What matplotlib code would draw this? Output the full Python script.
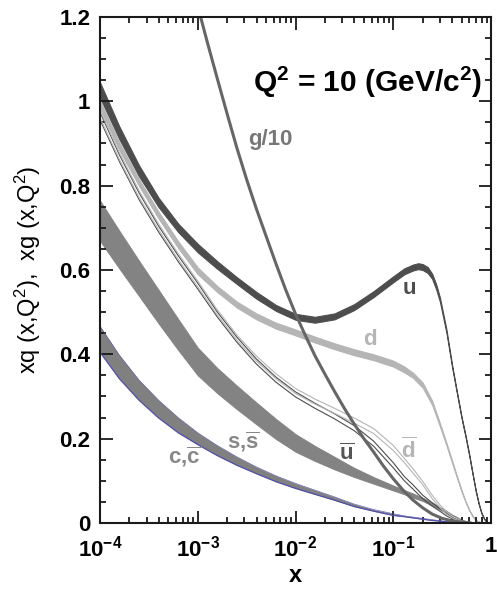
import numpy as np
import matplotlib.pyplot as plt
from matplotlib.ticker import FixedLocator, LogLocator, NullFormatter

plt.rcParams['font.family'] = ['Liberation Sans', 'DejaVu Sans']
plt.rcParams['mathtext.fontset'] = 'custom'
plt.rcParams['mathtext.rm'] = 'Liberation Sans'
plt.rcParams['mathtext.bf'] = 'Liberation Sans:bold'
plt.rcParams['mathtext.it'] = 'Liberation Sans:italic'

# common x grid for the sea quark bands
X = [1e-4, 1.58e-4, 2.51e-4, 3.98e-4, 6.31e-4, 1e-3, 1.58e-3, 2.51e-3, 3.98e-3, 6.31e-3,
     1e-2, 1.58e-2, 2.51e-2, 3.98e-2, 6.31e-2, 0.1, 0.13, 0.16, 0.2, 0.25, 0.3, 0.35,
     0.4, 0.45, 0.5, 0.55, 0.6, 0.65, 0.7, 0.75, 0.8, 0.85, 0.9]

# u band has a few more points round the valence peak
x_u = [1e-4, 1.58e-4, 2.51e-4, 3.98e-4, 6.31e-4, 1e-3, 1.58e-3, 2.51e-3, 3.98e-3, 6.31e-3,
       1e-2, 1.58e-2, 2.51e-2, 3.98e-2, 6.31e-2, 0.1, 0.13, 0.16, 0.18, 0.2, 0.225, 0.25,
       0.275, 0.3, 0.35, 0.4, 0.45, 0.5, 0.55, 0.6, 0.65, 0.7, 0.75, 0.8, 0.85, 0.9]
u_mid = [1.027, 0.925, 0.835, 0.76, 0.70, 0.652, 0.612, 0.575, 0.54, 0.51,
         0.489, 0.482, 0.49, 0.512, 0.543, 0.578, 0.597, 0.606, 0.609, 0.607, 0.6, 0.585,
         0.56, 0.53, 0.455, 0.372, 0.307, 0.25, 0.205, 0.16, 0.115, 0.075, 0.045, 0.023,
         0.010, 0.003]
u_err = [0.018, 0.015, 0.013, 0.011, 0.010, 0.010, 0.009, 0.008, 0.008, 0.007,
         0.007, 0.007, 0.007, 0.007, 0.007, 0.007, 0.007, 0.007, 0.007, 0.007, 0.007, 0.006,
         0.006, 0.005, 0.004, 0.003, 0.002, 0.002, 0.002, 0.002, 0.001, 0.001, 0.001, 0.001,
         0.001, 0.001]

d_mid = [0.992, 0.893, 0.807, 0.73, 0.66, 0.598, 0.555, 0.518, 0.49, 0.468,
         0.452, 0.435, 0.419, 0.405, 0.393, 0.378, 0.364, 0.35, 0.327, 0.285, 0.233, 0.187,
         0.145, 0.108, 0.076, 0.05, 0.03, 0.016, 0.007, 0.003, 0.001, 0.0, 0.0]
d_err = [0.009, 0.009, 0.008, 0.008, 0.008, 0.008, 0.007, 0.007, 0.007, 0.007,
         0.007, 0.007, 0.007, 0.007, 0.007, 0.007, 0.007, 0.006, 0.006, 0.005, 0.004, 0.003,
         0.003, 0.002, 0.002, 0.001, 0.001, 0.001, 0.0, 0.0, 0.0, 0.0, 0.0]

ub_mid = [0.965, 0.865, 0.775, 0.697, 0.627, 0.562, 0.495, 0.435, 0.383, 0.34,
          0.305, 0.278, 0.253, 0.225, 0.188, 0.137, 0.105, 0.085, 0.062, 0.044, 0.031, 0.02,
          0.012, 0.007, 0.004, 0.002, 0.001, 0.0, 0.0, 0.0, 0.0, 0.0, 0.0]
db_mid = [0.97, 0.87, 0.78, 0.702, 0.632, 0.567, 0.5, 0.44, 0.39, 0.348,
          0.313, 0.288, 0.266, 0.243, 0.218, 0.178, 0.148, 0.123, 0.095, 0.062, 0.04, 0.024,
          0.014, 0.008, 0.004, 0.002, 0.001, 0.0, 0.0, 0.0, 0.0, 0.0, 0.0]
sea_err = [0.009, 0.008, 0.008, 0.007, 0.007, 0.007, 0.006, 0.006, 0.006, 0.006,
           0.006, 0.006, 0.006, 0.006, 0.006, 0.006, 0.005, 0.005, 0.004, 0.004, 0.003, 0.003,
           0.002, 0.002, 0.001, 0.001, 0.001, 0.0, 0.0, 0.0, 0.0, 0.0, 0.0]

s_mid = [0.717, 0.648, 0.58, 0.513, 0.447, 0.383, 0.338, 0.298, 0.26, 0.223,
         0.19, 0.165, 0.142, 0.12, 0.101, 0.083, 0.073, 0.065, 0.056, 0.045, 0.035, 0.026,
         0.018, 0.012, 0.007, 0.004, 0.002, 0.001, 0.0, 0.0, 0.0, 0.0, 0.0]
s_err = [0.048, 0.045, 0.042, 0.04, 0.037, 0.033, 0.03, 0.028, 0.026, 0.024,
         0.021, 0.018, 0.015, 0.011, 0.008, 0.006, 0.005, 0.005, 0.004, 0.004, 0.003, 0.003,
         0.002, 0.002, 0.001, 0.001, 0.001, 0.0005, 0.0, 0.0, 0.0, 0.0, 0.0]

c_mid = [0.436, 0.37, 0.315, 0.27, 0.232, 0.2, 0.172, 0.147, 0.125, 0.105,
         0.088, 0.073, 0.058, 0.042, 0.03, 0.02, 0.016, 0.013, 0.01, 0.007, 0.005, 0.003,
         0.002, 0.001, 0.0, 0.0, 0.0, 0.0, 0.0, 0.0, 0.0, 0.0, 0.0]
c_err = [0.031, 0.028, 0.024, 0.021, 0.018, 0.014, 0.012, 0.01, 0.008, 0.007,
         0.006, 0.005, 0.004, 0.003, 0.002, 0.002, 0.001, 0.001, 0.001, 0.001, 0.0005, 0.0,
         0.0, 0.0, 0.0, 0.0, 0.0, 0.0, 0.0, 0.0, 0.0, 0.0, 0.0]

# gluon / 10
x_g = [1.07e-3, 1.26e-3, 1.58e-3, 2e-3, 2.51e-3, 3.16e-3, 3.98e-3, 5.01e-3, 6.31e-3, 7.94e-3,
       1e-2, 1.26e-2, 1.58e-2, 2e-2, 2.51e-2, 3.16e-2, 3.98e-2, 5.01e-2, 6.31e-2, 7.94e-2,
       0.1, 0.126, 0.158, 0.2, 0.251, 0.316, 0.398, 0.501, 0.631]
g10 = [1.2, 1.138, 1.055, 0.97, 0.89, 0.815, 0.745, 0.68, 0.615, 0.553,
       0.496, 0.445, 0.397, 0.353, 0.312, 0.272, 0.235, 0.2, 0.168, 0.135,
       0.105, 0.078, 0.055, 0.036, 0.021, 0.011, 0.005, 0.002, 0.0]

xticks = [1e-4, 1e-3, 1e-2, 1e-1, 1]
xticklabels = [r'$\mathbf{10^{-4}}$', r'$\mathbf{10^{-3}}$', r'$\mathbf{10^{-2}}$',
               r'$\mathbf{10^{-1}}$', r'$\mathbf{1}$']
yticks = [0, 0.2, 0.4, 0.6, 0.8, 1.0, 1.2]
yticklabels = ['0', '0.2', '0.4', '0.6', '0.8', '1', '1.2']


def band(mid, err):
    mid = np.array(mid)
    err = np.array(err)
    return mid - err, mid + err


fig = plt.figure(figsize=(4.97, 5.91), dpi=100)
ax = fig.add_axes([100 / 497, 1 - 523 / 591, 391 / 497, 506 / 591])

# charm band with blue edges
c_lo, c_hi = band(c_mid, c_err)
ax.fill_between(X, c_lo, c_hi, color='#808080', lw=0)
ax.plot(X, c_lo, color='#5050a8', lw=0.9)
ax.plot(X, c_hi, color='#5050a8', lw=0.4)

# strange band
s_lo, s_hi = band(s_mid, s_err)
ax.fill_between(X, s_lo, s_hi, color='#838383', lw=0.6, edgecolor='#838383')

# ubar / dbar drawn as outlines
for mid, col in [(ub_mid, '#4d4d4d'), (db_mid, '#b5b5b5')]:
    lo, hi = band(mid, sea_err)
    ax.plot(X, lo, color=col, lw=0.8)
    ax.plot(X, hi, color=col, lw=0.8)

# d and u bands
d_lo, d_hi = band(d_mid, d_err)
ax.fill_between(X, d_lo, d_hi, color='#b5b5b5', lw=0.8, edgecolor='#b5b5b5')
u_lo, u_hi = band(u_mid, u_err)
ax.fill_between(x_u, u_lo, u_hi, color='#4d4d4d', lw=0.8, edgecolor='#4d4d4d')

# gluon
ax.plot(x_g, g10, color='#666666', lw=2.2, solid_capstyle='butt')

ax.set_xscale('log')
ax.set_xlim(1e-4, 1)
ax.set_ylim(0, 1.2)

ax.xaxis.set_major_locator(FixedLocator(xticks))
ax.set_xticklabels(xticklabels)
ax.xaxis.set_minor_locator(LogLocator(base=10, subs=np.arange(2, 10)))
ax.xaxis.set_minor_formatter(NullFormatter())
ax.set_yticks(yticks)
ax.set_yticklabels(yticklabels)
ax.yaxis.set_minor_locator(FixedLocator(np.arange(0, 1.21, 0.05)))

ax.tick_params(which='both', direction='in', top=True, right=True, width=1.3, color='#1a1a1a')
ax.tick_params(which='major', length=9, labelsize=16)
ax.tick_params(axis='y', which='major', pad=7)
ax.tick_params(axis='x', which='major', pad=9)
ax.tick_params(which='minor', length=4.5)
for lab in ax.get_yticklabels():
    lab.set_fontweight('bold')
for sp in ax.spines.values():
    sp.set_linewidth(1.5)
    sp.set_color('#1a1a1a')

ax.set_xlabel('x', fontsize=17, fontweight='bold', labelpad=2)
ax.set_ylabel('xq (x,Q$^2$),  xg (x,Q$^2$)', fontsize=17, labelpad=12)

ax.text(0.977, 0.871, r'Q$^{\mathbf{2}}$ = 10 (GeV/c$^{\mathbf{2}}$)', transform=ax.transAxes,
        ha='right', va='center', fontsize=21.5, fontweight='bold')

lab_kw = dict(ha='center', va='center', fontsize=16, fontweight='bold')
ax.text(5.5e-3, 0.91, 'g/10', color='#777777', **lab_kw)
ax.text(0.145, 0.555, 'u', color='#4d4d4d', **lab_kw)
ax.text(0.058, 0.436, 'd', color='#b5b5b5', **lab_kw)
ax.text(0.0337, 0.162, r'$\mathbf{\overline{u}}$', color='#555555', **lab_kw)
ax.text(0.145, 0.171, r'$\mathbf{\overline{d}}$', color='#b5b5b5', **lab_kw)
ax.text(2.97e-3, 0.193, r's,$\mathbf{\overline{s}}$', color='#888888', **lab_kw)
ax.text(7.24e-4, 0.157, r'c,$\mathbf{\overline{c}}$', color='#888888', **lab_kw)

fig.savefig('out.png', dpi=100)
